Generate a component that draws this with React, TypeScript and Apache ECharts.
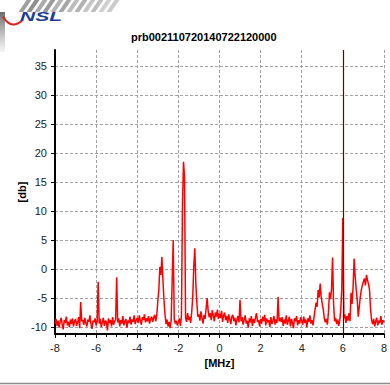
import React, { useEffect, useRef } from "react";
import * as echarts from "echarts";

// Spectrum sweep: -8 .. +8 MHz, one reading every 0.05 MHz
const chartTitle = "prb002110720140722120000";
const freqStartMHz = -8;
const freqStepMHz = 0.05;
const xTickStepMHz = 2;
const dbTicks = [-10, -5, 0, 5, 10, 15, 20, 25, 30, 35];
const markerMHz = 6;

// Measured level [db], one row per MHz (20 readings each), last value at +8 MHz
const levelDb = [
  // -8 .. -7.05
  -9.4, -8.6, -9.8, -8.9, -10.1, -9.0, -8.4, -9.6, -10.4, -8.8, -9.3, -8.2, -9.7, -9.1, -10.0, -8.7, -9.5, -8.5, -9.9, -9.0,
  // -7 .. -6.05
  -8.6, -9.8, -9.2, -8.3, -10.2, -5.7, -9.0, -8.8, -9.6, -8.4, -9.3, -9.9, -8.7, -9.1, -8.0, -9.5, -10.3, -8.9, -9.2, -8.5,
  // -6 .. -5.05
  -9.7, -9.0, -2.2, -9.4, -8.6, -10.0, -9.2, -8.4, -9.8, -8.9, -9.1, -10.6, -8.5, -9.3, -8.8, -9.9, -8.3, -9.6, -9.0, -8.7,
  // -5 .. -4.05
  -1.4, -9.2, -8.5, -9.9, -8.8, -9.4, -8.1, -9.7, -9.0, -8.6, -10.1, -8.9, -9.3, -8.2, -9.6, -8.7, -9.1, -8.0, -9.5, -8.8,
  // -4 .. -3.05
  -8.4, -9.3, -8.0, -8.9, -9.6, -8.3, -8.8, -7.8, -9.2, -8.5, -9.0, -8.1, -9.4, -8.6, -8.2, -9.1, -8.4, -7.9, -9.0, -8.0,
  // -3 .. -2.05
  -5.5, -3.6, 0.4, -1.0, 2.1, -1.9, -5.3, -7.8, -9.5, -8.7, -9.9, -9.1, -10.2, -8.8, -1.9, 5.0, -8.6, -9.4, -8.9, -9.7,
  // -2 .. -1.05
  -9.2, -8.5, -9.8, -8.0, 11.0, 18.5, 16.0, -8.4, -9.1, -7.6, -8.8, -8.2, -9.3, -7.4, -4.8, 0.5, 3.6, -2.4, -5.9, -8.2,
  // -1 .. -0.05
  -7.8, -8.9, -7.3, -8.5, -9.4, -7.9, -8.6, -6.8, -5.0, -7.2, -8.3, -7.6, -8.8, -7.1, -8.0, -9.0, -7.5, -8.2, -7.0, -8.6,
  // 0 .. 0.95
  -7.7, -8.4, -7.2, -9.1, -8.0, -7.5, -8.8, -8.1, -9.3, -7.8, -8.6, -9.5, -8.2, -7.9, -9.0, -8.4, -9.7, -8.7, -8.1, -9.2,
  // 1 .. 1.95
  -5.3, -9.0, -8.3, -9.6, -8.7, -8.0, -9.4, -8.9, -10.1, -8.5, -9.2, -8.1, -9.8, -8.6, -9.3, -8.4, -7.6, -9.1, -8.8, -9.9,
  // 2 .. 2.95
  -8.6, -9.4, -8.2, -9.0, -7.9, -9.7, -8.5, -9.2, -8.8, -10.0, -8.3, -9.5, -8.9, -8.1, -9.6, -8.7, -9.3, -4.8, -9.0, -8.4,
  // 3 .. 3.95
  -9.1, -8.3, -9.8, -8.7, -9.4, -8.0, -9.6, -8.9, -8.2, -9.9, -8.6, -9.3, -10.2, -8.5, -9.0, -8.1, -9.7, -8.8, -9.4, -8.3,
  // 4 .. 4.95
  -8.9, -9.6, -8.2, -9.3, -8.7, -10.0, -8.5, -9.1, -8.0, -9.4, -8.8, -9.7, -8.3, -7.0, -5.8, -6.5, -3.6, -4.9, -2.5, -4.8,
  // 5 .. 5.95
  -6.0, -7.0, -8.5, -9.2, -8.6, -9.6, -7.5, -4.0, -5.2, -3.5, 2.0, -6.0, -9.0, -8.4, -9.5, -8.7, -9.8, -8.9, -7.0, -3.3,
  // 6 .. 6.95
  8.8, -8.5, -7.8, -9.3, -8.1, -8.9, -7.6, -9.0, -4.1, -6.0, -3.0, 1.8, -1.3, -3.5, -5.3, -8.2, -6.5, -4.8, -3.6, -2.8,
  // 7 .. 7.95
  -2.2, -1.6, -2.8, -1.0, -1.9, -2.6, -3.6, -7.0, -8.8, -9.5, -8.6, -9.9, -9.0, -8.4, -9.7, -8.9, -9.3, -8.1, -9.6, -8.8,
  // 8
  -9.2,
];

const FONT = "'Liberation Sans', Arial, sans-serif";

export default function App() {
  const ref = useRef<HTMLDivElement>(null);

  useEffect(() => {
    if (!ref.current) return;
    const chart = echarts.init(ref.current, undefined, { renderer: "svg" });

    const points = levelDb.map((v, i) => [
      Number((freqStartMHz + i * freqStepMHz).toFixed(2)),
      v,
    ]);

    // soft rope strands in the banner corner
    const strands: any[] = [];
    for (let i = 0; i < 12; i++) {
      strands.push({
        type: "rect",
        x: 30 + i * 8,
        y: -5,
        rotation: -0.6,
        shape: { x: 0, y: 0, width: 4, height: 20 },
        style: {
          fill: i % 2 ? "#555555" : "#777777",
          opacity: 0.7 - i * 0.035,
        },
      });
    }

    chart.setOption({
      animation: false,
      backgroundColor: "#ffffff",
      title: {
        text: chartTitle,
        left: 131,
        top: 31,
        padding: 0,
        textStyle: { fontSize: 11, fontWeight: "bold", color: "#000", fontFamily: FONT },
      },
      grid: { left: 55, right: 6, top: 50, bottom: 51 },
      xAxis: {
        type: "value",
        min: -8,
        max: 8,
        interval: xTickStepMHz,
        name: "[MHz]",
        nameLocation: "middle",
        nameGap: 23,
        nameTextStyle: { fontSize: 11, fontWeight: "bold", color: "#000", fontFamily: FONT },
        axisLine: { onZero: false, lineStyle: { color: "#000", width: 2 } },
        axisTick: { show: true, length: 4, lineStyle: { color: "#000" } },
        minorTick: { show: true, splitNumber: 4, length: 3, lineStyle: { color: "#000" } },
        axisLabel: { fontSize: 11, color: "#222", margin: 8, fontFamily: FONT },
        splitLine: { show: true, lineStyle: { color: "#a0a0a0", width: 1, type: [3, 2] } },
      },
      yAxis: {
        type: "value",
        min: -11.2,
        max: 37.8,
        name: "[db]",
        nameLocation: "middle",
        nameGap: 28,
        nameMoveOverlap: false,
        nameTextStyle: { fontSize: 11, fontWeight: "bold", color: "#000", fontFamily: FONT },
        axisLine: { show: true, onZero: false, lineStyle: { color: "#000", width: 2 } },
        axisTick: { show: true, length: 4, customValues: dbTicks, lineStyle: { color: "#000" } },
        axisLabel: { customValues: dbTicks, fontSize: 11, color: "#222", margin: 8, fontFamily: FONT },
        splitLine: { show: true, lineStyle: { color: "#a0a0a0", width: 1, type: [3, 2] } },
      },
      series: [
        {
          name: "marker",
          type: "line",
          data: [],
          z: 2,
          markLine: {
            silent: true,
            symbol: ["none", "none"],
            label: { show: false },
            lineStyle: { color: "#6a0000", width: 1.2, type: "solid" },
            data: [{ xAxis: markerMHz }],
          },
        },
        {
          name: "level",
          type: "line",
          data: points,
          z: 3,
          showSymbol: false,
          symbol: "none",
          lineStyle: { color: "#ff0000", width: 1.5 },
        },
      ],
      graphic: [
        // banner strip at the very top
        ...strands,
        {
          type: "rect",
          shape: { x: 0, y: 12, width: 5, height: 40 },
          style: {
            fill: new echarts.graphic.LinearGradient(0, 0, 0, 1, [
              { offset: 0, color: "#6a6a6a" },
              { offset: 1, color: "rgba(150,150,150,0.1)" },
            ]),
          },
        },
        {
          type: "rect",
          shape: { x: 5, y: 12, width: 385, height: 3 },
          style: { fill: "#ffffff" },
        },
        // NSL logo
        {
          type: "bezierCurve",
          shape: { x1: 3, y1: 16.5, x2: 22, y2: 20.5, cpx1: 9, cpy1: 27, cpx2: 16, cpy2: 26 },
          style: { stroke: "#e02020", lineWidth: 2, fill: null },
        },
        {
          type: "text",
          x: 20,
          y: 11,
          scaleX: 1.75,
          style: {
            text: "NSL",
            fontSize: 12,
            fontWeight: 900,
            fontStyle: "italic",
            fontFamily: FONT,
            fill: "#1b3d96",
          },
        },
        // bottom rule
        {
          type: "line",
          shape: { x1: 0, y1: 383.5, x2: 390, y2: 383.5 },
          style: { stroke: "#8c8c8c", lineWidth: 1.5 },
        },
      ],
    });

    return () => chart.dispose();
  }, []);

  return (
    <div
      ref={ref}
      style={{ position: "fixed", left: 0, top: 0, width: 390, height: 385 }}
    />
  );
}
